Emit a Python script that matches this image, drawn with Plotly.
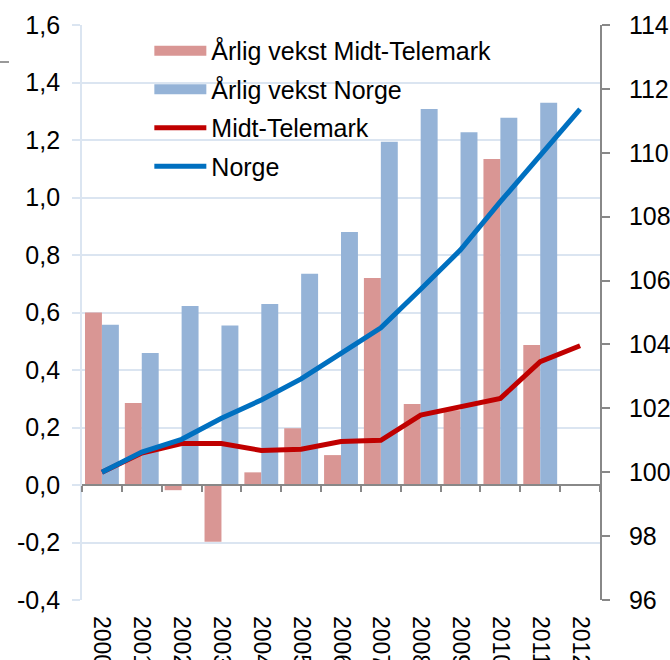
import plotly.graph_objects as go

years = ["2000", "2001", "2002", "2003", "2004", "2005", "2006",
         "2007", "2008", "2009", "2010", "2011", "2012"]

# Annual growth (%), left axis
vekst_midt = [0.60, 0.285, -0.018, -0.197, 0.044, 0.197, 0.104,
              0.72, 0.282, 0.26, 1.134, 0.487, None]
vekst_norge = [0.557, 0.459, 0.623, 0.555, 0.63, 0.735, 0.88,
               1.194, 1.308, 1.227, 1.277, 1.33, None]

# Index (2000 = 100), right axis
idx_midt = [100.0, 100.6, 100.9, 100.9, 100.68, 100.72, 100.96,
            101.0, 101.79, 102.07, 102.31, 103.46, 103.96]
idx_norge = [100.0, 100.63, 101.03, 101.69, 102.26, 102.92, 103.72,
             104.52, 105.73, 106.96, 108.47, 109.93, 111.37]

left_ticks = [-0.4, -0.2, 0.0, 0.2, 0.4, 0.6, 0.8, 1.0, 1.2, 1.4, 1.6]
left_ticktext = ["-0,4", "-0,2", "0,0", "0,2", "0,4", "0,6", "0,8",
                 "1,0", "1,2", "1,4", "1,6"]
right_ticks = [96, 98, 100, 102, 104, 106, 108, 110, 112, 114]
right_ticktext = ["96", "98", "100", "102", "104", "106", "108", "110", "112", "114"]

NB = "\u00a0"
FONT = "Liberation Sans, Arial, sans-serif"
FS = 25
GRID = "#dbe5f1"
AXIS = "#888888"
C_MIDT_BAR = "#d99694"
C_NORGE_BAR = "#95b3d7"

fig = go.Figure()
fig.add_trace(go.Bar(x=years, y=vekst_midt, name="Årlig vekst Midt-Telemark",
                     marker=dict(color=C_MIDT_BAR, line=dict(width=0)),
                     showlegend=False))
fig.add_trace(go.Bar(x=years, y=vekst_norge, name="Årlig vekst Norge",
                     marker=dict(color=C_NORGE_BAR, line=dict(width=0)),
                     showlegend=False))
# legend-only entries giving the wide rectangular swatches of the bars
fig.add_trace(go.Scatter(x=[None], y=[None], name="Årlig vekst Midt-Telemark",
                         mode="lines", line=dict(color=C_MIDT_BAR, width=13),
                         legendgroup="a", hoverinfo="skip"))
fig.add_trace(go.Scatter(x=[None], y=[None], name="Årlig vekst Norge",
                         mode="lines", line=dict(color=C_NORGE_BAR, width=13),
                         legendgroup="b", hoverinfo="skip"))
fig.add_trace(go.Scatter(x=years, y=idx_midt, name="Midt-Telemark",
                         mode="lines", line=dict(color="#c00000", width=5),
                         xaxis="x2", yaxis="y2", legendgroup="c"))
fig.add_trace(go.Scatter(x=years, y=idx_norge, name="Norge",
                         mode="lines", line=dict(color="#0070c0", width=5),
                         xaxis="x2", yaxis="y2", legendgroup="d"))

fig.update_layout(
    width=670, height=660,
    margin=dict(l=82, r=70, t=25, b=60, autoexpand=False),
    paper_bgcolor="white", plot_bgcolor="white",
    font=dict(family=FONT, size=FS, color="#000000"),
    barmode="group", bargap=0.15, bargroupgap=0,
    showlegend=True,
    legend=dict(x=0.13, y=0.995, xanchor="left", yanchor="top",
                bgcolor="rgba(0,0,0,0)", traceorder="grouped",
                tracegroupgap=3, itemwidth=52,
                font=dict(family=FONT, size=FS, color="#000000")),
    xaxis=dict(type="category", range=[-0.5, 12.5], tickangle=90,
               ticks="", showline=False, showgrid=False, zeroline=False,
               ticklabelstandoff=15, tickfont=dict(size=23)),
    xaxis2=dict(type="category", range=[-0.5, 12.5], overlaying="x",
                anchor="free", position=0.2, side="bottom",
                showline=True, linecolor=AXIS, linewidth=2,
                ticks="outside", tickson="boundaries", ticklen=6,
                tickcolor=AXIS, tickwidth=2,
                showticklabels=False, showgrid=False, zeroline=False),
    yaxis=dict(range=[-0.4, 1.6], tickvals=left_ticks,
               ticktext=[t + NB for t in left_ticktext],
               showgrid=True, gridcolor=GRID, gridwidth=2,
               showline=True, linecolor=GRID, linewidth=2,
               ticks="outside", ticklen=8, tickcolor=GRID, tickwidth=2,
               zeroline=False, tickfont=dict(size=FS)),
    yaxis2=dict(range=[96, 114], tickvals=right_ticks,
                ticktext=[NB + NB + t for t in right_ticktext], overlaying="y",
                side="right", showgrid=False, zeroline=False,
                showline=True, linecolor=AXIS, linewidth=2,
                ticks="outside", ticklen=8, tickcolor=AXIS, tickwidth=2,
                tickfont=dict(size=FS)),
    shapes=[dict(type="line", xref="paper", yref="paper",
                 x0=-82 / 518, x1=(9 - 82) / 518,
                 y0=(600 - 62) / 575, y1=(600 - 62) / 575,
                 line=dict(color="#999999", width=2))],
)

fig.write_html("out.html",
               config={"displayModeBar": False},
               post_script="document.body.style.margin='0';"
                           "document.body.style.overflow='hidden';")
